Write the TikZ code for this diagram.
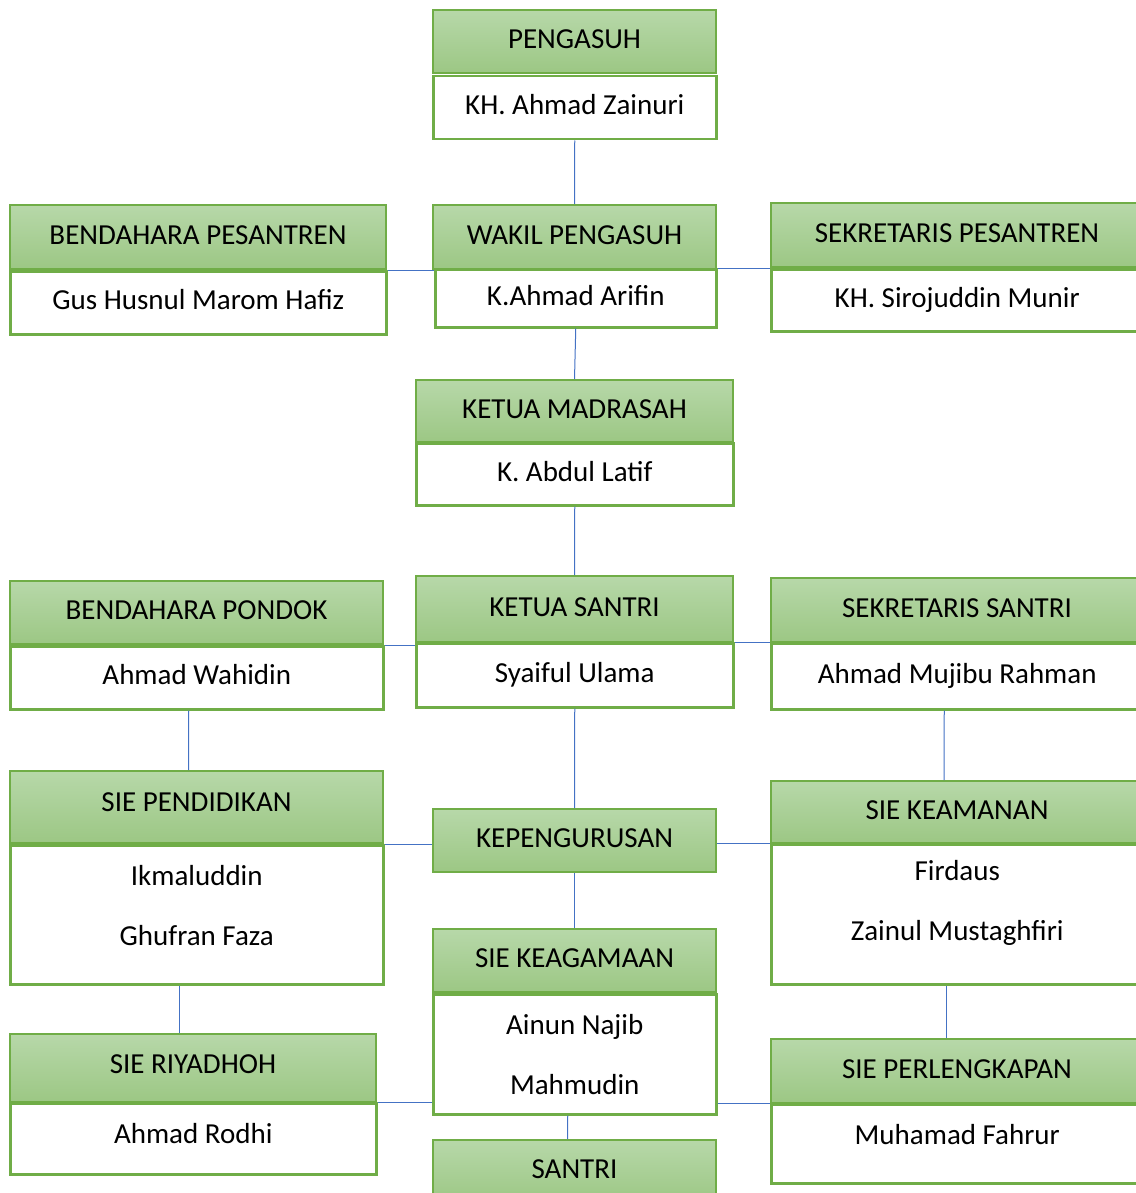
\documentclass[tikz,border=0pt]{standalone}
\usepackage{fontspec}
\setmainfont{Carlito}
\definecolor{gbord}{HTML}{70AD47}
\definecolor{gtop}{HTML}{B7D8A9}
\definecolor{gbot}{HTML}{9CC784}
\definecolor{lblue}{HTML}{4472C4}
\tikzset{
 box/.style={draw=gbord, line width=2pt, inner sep=0pt, anchor=north west, font=\fontsize{29}{60}\selectfont, align=center, text=black, text height=20pt, text depth=6pt},
 hdr/.style={box, top color=gtop, bottom color=gbot},
 nm/.style={box, fill=white, line width=2.5pt},
 multi/.style={text height=, text depth=},
 conn/.style={draw=lblue, line width=1pt}
}
\begin{document}
\begin{tikzpicture}[x=1pt,y=-1pt]
\useasboundingbox (0,0) rectangle (1135,1193);
\node[hdr, minimum width=283pt, minimum height=63pt] (pgh) at (432,9) {PENGASUH};
\node[nm, minimum width=283pt, minimum height=63pt] (pghn) at (432,75) {KH. Ahmad Zainuri};
\node[hdr, minimum width=283pt, minimum height=64pt] (wk) at (432,204) {WAKIL PENGASUH};
\node[nm, minimum width=281pt, minimum height=58pt] (wkn) at (434,268) {K.Ahmad Arifin};
\node[hdr, minimum width=376pt, minimum height=64pt] (bp) at (9,204) {BENDAHARA PESANTREN};
\node[nm, minimum width=376pt, minimum height=63pt] (bpn) at (9,270) {Gus Husnul Marom Hafiz};
\node[hdr, minimum width=372pt, minimum height=64pt] (sp) at (770,202) {SEKRETARIS PESANTREN};
\node[nm, minimum width=372pt, minimum height=62pt] (spn) at (770,268) {KH. Sirojuddin Munir};
\node[hdr, minimum width=317pt, minimum height=62pt] (km) at (415,379) {KETUA MADRASAH};
\node[nm, minimum width=317pt, minimum height=62pt] (kmn) at (415,442) {K. Abdul Latif};
\node[hdr, minimum width=317pt, minimum height=66pt] (ks) at (415,575) {KETUA SANTRI};
\node[nm, minimum width=317pt, minimum height=64pt] (ksn) at (415,642) {Syaiful Ulama};
\node[hdr, minimum width=373pt, minimum height=63pt] (bpo) at (9,580) {BENDAHARA PONDOK};
\node[nm, minimum width=373pt, minimum height=63pt] (bpon) at (9,645) {Ahmad Wahidin};
\node[hdr, minimum width=372pt, minimum height=64pt] (ss) at (770,577) {SEKRETARIS SANTRI};
\node[nm, minimum width=372pt, minimum height=66pt] (ssn) at (770,642) {Ahmad Mujibu Rahman};
\node[hdr, minimum width=373pt, minimum height=72pt, text depth=11pt] (pd) at (9,770) {SIE PENDIDIKAN};
\node[nm, multi, minimum width=373pt, minimum height=139pt] (pdn) at (9,844) {Ikmaluddin\\Ghufran Faza\rule[-18pt]{0pt}{18pt}};
\node[hdr, minimum width=283pt, minimum height=63pt] (kp) at (432,808) {KEPENGURUSAN};
\node[hdr, minimum width=372pt, minimum height=62pt] (ka) at (770,780) {SIE KEAMANAN};
\node[nm, multi, minimum width=372pt, minimum height=140pt] (kan) at (770,843) {Firdaus\\Zainul Mustaghfiri\rule[-27pt]{0pt}{27pt}};
\node[hdr, minimum width=283pt, minimum height=63pt] (kg) at (432,928) {SIE KEAGAMAAN};
\node[nm, multi, minimum width=283pt, minimum height=120pt] (kgn) at (432,993) {Ainun Najib\\Mahmudin};
\node[hdr, minimum width=366pt, minimum height=68pt, text depth=9pt] (ry) at (9,1033) {SIE RIYADHOH};
\node[nm, minimum width=366pt, minimum height=71pt, text depth=11pt] (ryn) at (9,1102) {Ahmad Rodhi};
\node[hdr, minimum width=372pt, minimum height=64pt] (pl) at (770,1038) {SIE PERLENGKAPAN};
\node[nm, minimum width=372pt, minimum height=79pt, text depth=19pt] (pln) at (770,1103) {Muhamad Fahrur};
\node[hdr, minimum width=283pt, minimum height=63pt] (st) at (432,1139) {SANTRI};

\draw[conn] (pghn.south) -- (wk.north);
\draw[conn] (bpn.north east) -- (bpn.north east -| wkn.west);
\draw[conn] (wkn.north east) -- (wkn.north east -| spn.west);
\draw[conn] (wkn.south) -- (km.north);
\draw[conn] (kmn.south) -- (ks.north);
\draw[conn] (bpon.north east) -- (bpon.north east -| ksn.west);
\draw[conn] (ksn.north east) -- (ksn.north east -| ssn.west);
\draw[conn] (ksn.south) -- (kp.north);
\draw[conn] ([xshift=-8pt]bpon.south) -- ([xshift=-8pt]pd.north);
\draw[conn] ([xshift=-13pt]ssn.south) -- ([xshift=-13pt]ka.north);
\draw[conn] (pdn.north east) -- (pdn.north east -| kp.west);
\draw[conn] (kp.east |- kan.north west) -- (kan.north west);
\draw[conn] (kp.south) -- (kg.north);
\draw[conn] ([xshift=-14pt]ry.north |- pdn.south) -- ([xshift=-14pt]ry.north);
\draw[conn] ([xshift=-11pt]pl.north |- kan.south) -- ([xshift=-11pt]pl.north);
\draw[conn] (ryn.north east) -- (ryn.north east -| kgn.west);
\draw[conn] (kgn.east |- pln.north west) -- (pln.north west);
\draw[conn] ([xshift=-7pt]kgn.south) -- ([xshift=-7pt]st.north);
\end{tikzpicture}
\end{document}
